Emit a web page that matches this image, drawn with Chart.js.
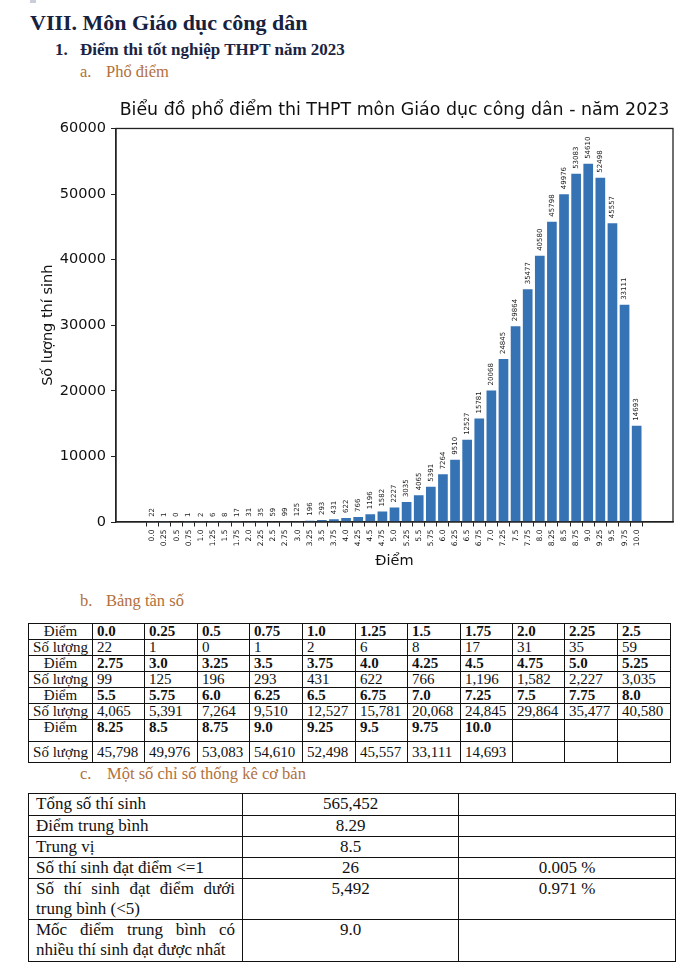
<!DOCTYPE html>
<html lang="vi">
<head>
<meta charset="utf-8">
<script src="https://cdn.jsdelivr.net/npm/chart.js@4.4.1/dist/chart.umd.min.js"></script>
<style>
html,body{margin:0;padding:0;background:#fff;width:700px;height:967px;overflow:hidden;}
body{position:relative;font-family:"Liberation Serif","DejaVu Serif","Times New Roman",serif;color:#111;}
.t{position:absolute;white-space:nowrap;line-height:1;}
.h1{left:30px;top:12.3px;font-size:22px;font-weight:bold;color:#17223f;}
.h2{top:40.8px;font-size:17px;font-weight:bold;color:#1b2442;}
.h3{font-size:16.5px;color:#b1703c;}
#chartBox{position:absolute;left:0;top:95px;width:700px;height:480px;}
table{position:absolute;border-collapse:collapse;table-layout:fixed;font-family:"Liberation Serif","DejaVu Serif","Times New Roman",serif;color:#111;}
#freq td{border:1.5px solid #111;font-size:15px;line-height:15px;padding:0 0 0 4px;vertical-align:middle;white-space:nowrap;overflow:hidden;}
#freq td.lab{text-align:center;padding:0;}
#freq td.b{font-weight:bold;}
#freq tr.top td{vertical-align:top;}
#stats td{border:1.5px solid #111;font-size:17px;line-height:20px;padding:0 7px;vertical-align:top;}
#stats td.c{text-align:center;}
.just{text-align:justify;text-align-last:justify;}
</style>
</head>
<body>
<div style="position:absolute;left:30px;top:0;width:6px;height:3px;background:#c9ced9"></div>
<div class="t h1">VIII. Môn Giáo dục công dân</div>
<div class="t h2" style="left:55px">1.</div>
<div class="t h2" style="left:80px">Điểm thi tốt nghiệp THPT năm 2023</div>
<div class="t h3" style="left:80px;top:63.5px">a.</div>
<div class="t h3" style="left:106px;top:63.5px">Phổ điểm</div>

<div id="chartBox"><canvas id="c" width="700" height="480"></canvas></div>

<div class="t h3" style="left:80px;top:593px">b.</div>
<div class="t h3" style="left:106px;top:593px">Bảng tần số</div>
<table id="freq" style="left:28px;top:623px;width:642px"></table>

<div class="t h3" style="left:80px;top:765.5px">c.</div>
<div class="t h3" style="left:107px;top:765.5px">Một số chỉ số thống kê cơ bản</div>
<table id="stats" style="left:28px;top:793px;width:647px"></table>

<script>
// ---- data ----
const scoreLabels = ['0.0','0.25','0.5','0.75','1.0','1.25','1.5','1.75','2.0','2.25','2.5',
  '2.75','3.0','3.25','3.5','3.75','4.0','4.25','4.5','4.75','5.0','5.25',
  '5.5','5.75','6.0','6.25','6.5','6.75','7.0','7.25','7.5','7.75','8.0',
  '8.25','8.5','8.75','9.0','9.25','9.5','9.75','10.0'];
const counts = [22,1,0,1,2,6,8,17,31,35,59,
  99,125,196,293,431,622,766,1196,1582,2227,3035,
  4065,5391,7264,9510,12527,15781,20068,24845,29864,35477,40580,
  45798,49976,53083,54610,52498,45557,33111,14693];
const yTicks = [0,10000,20000,30000,40000,50000,60000];
const chartTitle = 'Biểu đồ phổ điểm thi THPT môn Giáo dục công dân - năm 2023';
const xTitle = 'Điểm';
const yTitle = 'Số lượng thí sinh';

const statLabels = ['Tổng số thí sinh','Điểm trung bình','Trung vị','Số thí sinh đạt điểm <=1',
  'Số thí sinh đạt điểm dưới|trung bình (<5)','Mốc điểm trung bình có|nhiều thí sinh đạt được nhất'];
const statValues = ['565,452','8.29','8.5','26','5,492','9.0'];
const statPercents = ['','','','0.005 %','0.971 %',''];

// ---- frequency table ----
(function(){
  const t = document.getElementById('freq');
  const cg = document.createElement('colgroup');
  const widths = [64,52,53,52,53,53,52,53,52,52,53,53];
  widths.forEach(w=>{const c=document.createElement('col');c.style.width=w+'px';cg.appendChild(c);});
  t.appendChild(cg);
  const heights = [16,15,16,15,16,15,22,21];
  for(let r=0;r<4;r++){
    const trS=document.createElement('tr'), trC=document.createElement('tr');
    trS.style.height=heights[r*2]+'px'; trC.style.height=heights[r*2+1]+'px';
    if(r===3) trS.className='top';
    let td=document.createElement('td');td.className='lab';td.textContent='Điểm';trS.appendChild(td);
    td=document.createElement('td');td.className='lab';td.textContent='Số lượng';trC.appendChild(td);
    for(let k=0;k<11;k++){
      const i=r*11+k;
      const a=document.createElement('td'), b=document.createElement('td');
      a.className='b';
      if(i<scoreLabels.length){a.textContent=scoreLabels[i];b.textContent=counts[i].toLocaleString('en-US');}
      trS.appendChild(a);trC.appendChild(b);
    }
    t.appendChild(trS);t.appendChild(trC);
  }
})();

// ---- stats table ----
(function(){
  const t=document.getElementById('stats');
  const cg=document.createElement('colgroup');
  [214,216,217].forEach(w=>{const c=document.createElement('col');c.style.width=w+'px';cg.appendChild(c);});
  t.appendChild(cg);
  const hs=[22,21,21,21,40,42];
  statLabels.forEach((lab,i)=>{
    const tr=document.createElement('tr');tr.style.height=hs[i]+'px';
    const a=document.createElement('td');
    const parts=lab.split('|');
    if(parts.length>1){
      const d1=document.createElement('div');d1.className='just';d1.textContent=parts[0];
      const d2=document.createElement('div');d2.textContent=parts[1];
      a.appendChild(d1);a.appendChild(d2);
    } else a.textContent=lab;
    const b=document.createElement('td');b.className='c';b.textContent=statValues[i];
    const c=document.createElement('td');c.className='c';c.textContent=statPercents[i];
    tr.appendChild(a);tr.appendChild(b);tr.appendChild(c);t.appendChild(tr);
  });
})();

// ---- chart ----
const frame = {
  id:'frame',
  afterDraw(chart){
    const {ctx, chartArea:a} = chart;
    ctx.save();ctx.strokeStyle='#222';ctx.lineWidth=1.3;
    ctx.strokeRect(a.left, a.top, a.right-a.left, a.bottom-a.top);
    ctx.restore();
  }
};
const barLabels = {
  id:'barLabels',
  afterDatasetsDraw(chart){
    const {ctx} = chart;
    const meta = chart.getDatasetMeta(0);
    ctx.save();
    ctx.font='7px "DejaVu Sans"';ctx.fillStyle='#222';
    ctx.textAlign='left';ctx.textBaseline='middle';
    meta.data.forEach((el,i)=>{
      ctx.save();
      ctx.translate(el.x, el.y-5);
      ctx.rotate(-Math.PI/2);
      ctx.fillText(String(counts[i]),0,0);
      ctx.restore();
    });
    ctx.restore();
  }
};

new Chart(document.getElementById('c'), {
  type:'bar',
  data:{
    datasets:[{
      data: counts.map((v,i)=>({x:i,y:v})),
      backgroundColor:'#3573b4',
      borderWidth:0,
      barPercentage:0.8,
      categoryPercentage:1.0
    }]
  },
  options:{
    responsive:false,
    animation:false,
    devicePixelRatio:1,
    layout:{padding:{left:0,right:27,top:0,bottom:0}},
    plugins:{
      legend:{display:false},
      tooltip:{enabled:false},
      title:{display:true,text:chartTitle,fullSize:false,color:'#111',
        font:{family:'DejaVu Sans',size:17.4,weight:'normal'},padding:{top:5,bottom:7.6}}
    },
    scales:{
      x:{
        type:'linear',min:-2.44,max:scoreLabels.length-1+2.44,
        afterBuildTicks:(s)=>{s.ticks=scoreLabels.map((_,i)=>({value:i}));},
        afterFit:(s)=>{s.height=53;},
        ticks:{autoSkip:false,maxRotation:90,minRotation:90,padding:3,color:'#111',
          font:{family:'DejaVu Sans',size:7.5},
          callback:(v)=>scoreLabels[Math.round(v)]},
        grid:{drawOnChartArea:false,drawTicks:true,tickLength:4.5,color:'#222'},
        border:{display:true,color:'#222',width:1.3},
        title:{display:true,text:xTitle,color:'#111',font:{family:'DejaVu Sans',size:14.5},padding:{top:0,bottom:5.3}}
      },
      y:{
        min:0,max:60000,
        afterBuildTicks:(s)=>{s.ticks=yTicks.map(v=>({value:v}));},
        afterFit:(s)=>{s.width=116;},
        ticks:{padding:5,color:'#111',font:{family:'DejaVu Sans',size:14.5},callback:(v)=>String(v)},
        grid:{drawOnChartArea:false,drawTicks:true,tickLength:5,color:'#222'},
        border:{display:true,color:'#222',width:1.3},
        title:{display:true,text:yTitle,color:'#111',font:{family:'DejaVu Sans',size:14.5},padding:{top:39.3,bottom:0}}
      }
    }
  },
  plugins:[frame,barLabels]
});
</script>
</body>
</html>
